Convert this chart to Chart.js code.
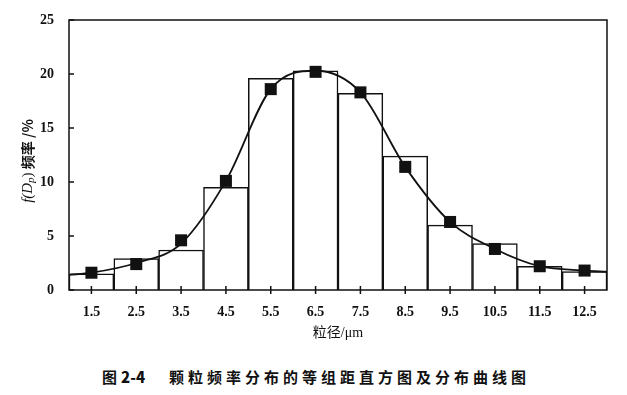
<!DOCTYPE html>
<html>
<head>
<meta charset="utf-8">
<script src="https://cdn.jsdelivr.net/npm/chart.js@4"></script>
<style>
body { margin: 0; background: #fff; }
#wrap { position: relative; width: 627px; height: 395px; }
#chart { position: absolute; left: 0; top: 0; }
#caption {
    position: absolute; left: 102px; top: 368px;
    font: bold 15px "Noto Sans CJK SC"; line-height: 18px;
    letter-spacing: 4px; color: #111; white-space: nowrap;
}
#caption span { letter-spacing: 0; margin-right: 24px; }
#caption b { margin-left: 4px; }
</style>
</head>
<body>
<div id="wrap">
    <canvas id="chart" width="627" height="350"></canvas>
    <div id="caption"><span>图<b>2-4</b></span>颗粒频率分布的等组距直方图及分布曲线图</div>
</div>
<script>
// particle size classes (bin centres, um)
const binCenters = [1.5, 2.5, 3.5, 4.5, 5.5, 6.5, 7.5, 8.5, 9.5, 10.5, 11.5, 12.5];
// histogram bar heights, %
const barValues = [1.5, 2.9, 3.7, 9.5, 19.6, 20.3, 18.2, 12.4, 6.0, 4.3, 2.2, 1.7];
// square markers, %
const pointValues = [1.6, 2.4, 4.6, 10.1, 18.6, 20.2, 18.3, 11.4, 6.3, 3.8, 2.2, 1.8];
// fitted distribution curve
const curveX = [1, 1.5, 2.5, 3.5, 4.5, 5.5, 6.5, 7.5, 8.5, 9.5, 10.5, 11.5, 12.5, 13];
const curveY = [1.4, 1.6, 2.5, 4.3, 10.1, 18.6, 20.3, 18.3, 11.4, 6.3, 3.8, 2.2, 1.8, 1.7];
const yTicks = [0, 5, 10, 15, 20, 25];

const ink = '#111';
const tickFont = { family: 'Liberation Serif', size: 14, weight: 'bold' };

// box frame, inward ticks and the mixed-style y title
const framePlugin = {
    id: 'frame',
    afterDraw(chart) {
        const { ctx, chartArea: a, scales } = chart;
        ctx.save();
        ctx.strokeStyle = ink;
        ctx.lineWidth = 1.5;
        ctx.strokeRect(a.left, a.top, a.right - a.left, a.bottom - a.top);

        ctx.beginPath();
        scales.y.ticks.forEach(t => {
            const py = scales.y.getPixelForValue(t.value);
            ctx.moveTo(a.left, py);
            ctx.lineTo(a.left + 5, py);
        });
        scales.x.ticks.forEach(t => {
            const px = scales.x.getPixelForValue(t.value);
            ctx.moveTo(px, a.bottom - 4);
            ctx.lineTo(px, a.bottom + 4);
        });
        ctx.stroke();

        // y axis title: f(Dp) 频率 /%
        const parts = [
            { t: 'f(D', f: 'italic 15px "Liberation Serif"', dy: 0 },
            { t: 'p', f: 'italic 11px "Liberation Serif"', dy: 3 },
            { t: ')', f: '15px "Liberation Serif"', dy: 0 },
            { t: ' 频率 /%', f: 'bold 14px "Noto Sans CJK SC"', dy: 0 }
        ];
        let total = 0;
        parts.forEach(p => { ctx.font = p.f; p.w = ctx.measureText(p.t).width; total += p.w; });
        ctx.translate(28, 161);
        ctx.rotate(-Math.PI / 2);
        ctx.fillStyle = ink;
        ctx.textBaseline = 'middle';
        let x = -total / 2;
        parts.forEach(p => {
            ctx.font = p.f;
            ctx.fillText(p.t, x, p.dy);
            x += p.w;
        });
        ctx.restore();
    }
};

let ctx = document.getElementById('chart').getContext('2d');

new Chart(ctx, {
    data: {
        datasets: [
            {
                type: 'scatter',
                data: binCenters.map((x, i) => ({ x: x, y: pointValues[i] })),
                pointStyle: 'rect',
                pointRadius: 8.5,
                backgroundColor: ink,
                borderColor: ink,
                borderWidth: 0,
                order: 0
            },
            {
                type: 'line',
                data: curveX.map((x, i) => ({ x: x, y: curveY[i] })),
                borderColor: ink,
                borderWidth: 1.8,
                pointRadius: 0,
                fill: false,
                cubicInterpolationMode: 'monotone',
                order: 1
            },
            {
                type: 'bar',
                data: binCenters.map((x, i) => ({ x: x, y: barValues[i] })),
                backgroundColor: '#fff',
                borderColor: ink,
                borderWidth: 1.5,
                barPercentage: 1,
                categoryPercentage: 1,
                order: 2
            }
        ]
    },
    options: {
        responsive: false,
        animation: false,
        layout: { padding: { left: 0, right: 20, top: 20, bottom: 2 } },
        plugins: {
            legend: { display: false },
            tooltip: { enabled: false }
        },
        scales: {
            x: {
                type: 'linear',
                min: 1,
                max: 13,
                offset: false,
                afterBuildTicks: scale => { scale.ticks = binCenters.map(v => ({ value: v })); },
                afterFit: scale => { scale.height = 58; },
                grid: { display: false },
                border: { display: false },
                ticks: {
                    color: ink,
                    font: tickFont,
                    padding: 6,
                    maxRotation: 0,
                    autoSkip: false,
                    callback: v => v.toFixed(1)
                },
                title: {
                    display: true,
                    text: '粒径/μm',
                    color: ink,
                    font: { family: 'Liberation Serif, Noto Sans CJK SC', size: 14 },
                    padding: { top: 8, bottom: 6 }
                }
            },
            y: {
                min: 0,
                max: 25,
                afterBuildTicks: scale => { scale.ticks = yTicks.map(v => ({ value: v })); },
                afterFit: scale => { scale.width = 69; },
                grid: { display: false },
                border: { display: false },
                ticks: {
                    color: ink,
                    font: tickFont,
                    padding: 7
                }
            }
        }
    },
    plugins: [framePlugin]
});
</script>
</body>
</html>
